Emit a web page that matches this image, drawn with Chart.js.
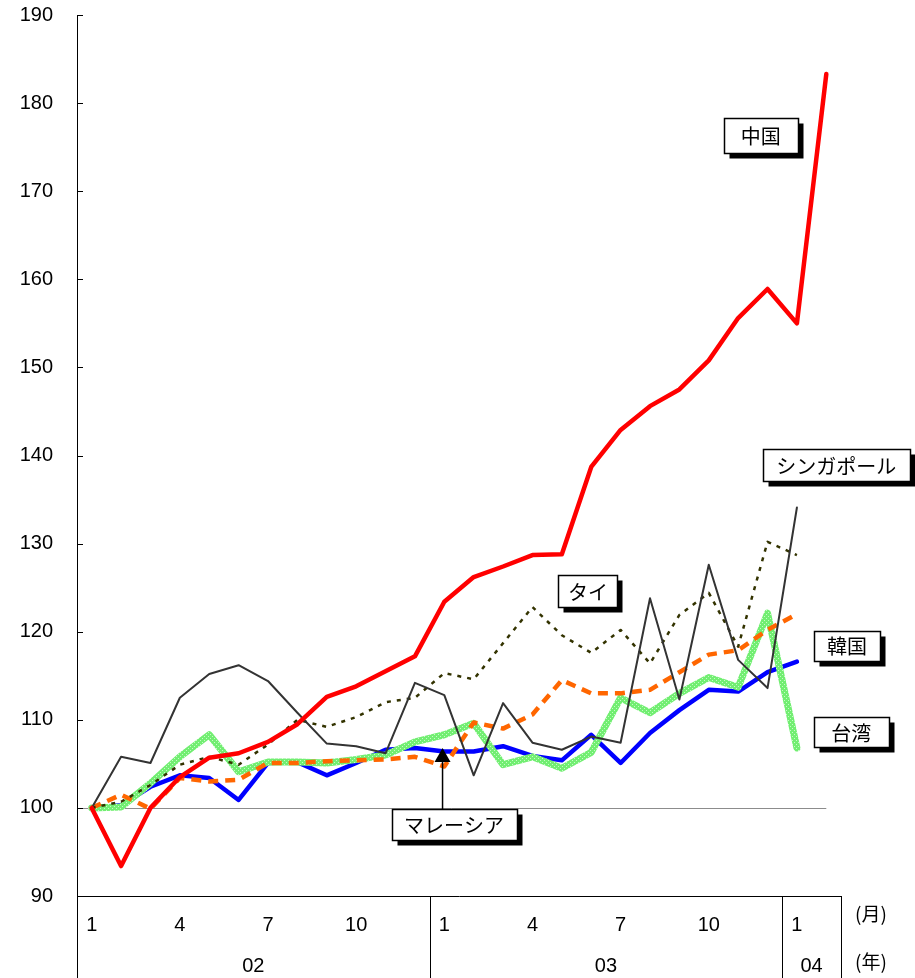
<!DOCTYPE html>
<html>
<head>
<meta charset="utf-8">
<script src="https://cdn.jsdelivr.net/npm/chart.js@4.4.1/dist/chart.umd.min.js"></script>
<style>
  html, body { margin: 0; padding: 0; background: #fff; }
  #wrap { width: 915px; height: 978px; }
</style>
</head>
<body>
<div id="wrap"><canvas id="exportChart" width="915" height="978"></canvas></div>
<script>
// Monthly index (2002-01 = 100), Jan 2002 – Feb 2004
const CATEGORIES = [
  '2002-01', '2002-02', '2002-03', '2002-04', '2002-05', '2002-06',
  '2002-07', '2002-08', '2002-09', '2002-10', '2002-11', '2002-12',
  '2003-01', '2003-02', '2003-03', '2003-04', '2003-05', '2003-06',
  '2003-07', '2003-08', '2003-09', '2003-10', '2003-11', '2003-12',
  '2004-01', '2004-02'
];
const MONTH_TICKS = ['1', '4', '7', '10'];
const YEAR_LABELS = ['02', '03', '04'];
const Y_TICKS = [90, 100, 110, 120, 130, 140, 150, 160, 170, 180, 190];

const china = [100, 93.4, 100, 103.5, 105.7, 106.2, 107.5, 109.5, 112.6, 113.8, 115.5, 117.2,
  123.4, 126.2, 127.4, 128.7, 128.8, 138.7, 142.9, 145.6, 147.5, 150.8, 155.6, 158.9, 155.0, 183.3];
const singapore = [100, 105.8, 105.1, 112.5, 115.2, 116.2, 114.4, 110.8, 107.3, 107.0, 106.2, 114.2,
  112.8, 103.7, 111.9, 107.4, 106.6, 108.1, 107.4, 123.8, 112.3, 127.6, 116.8, 113.6, 134.1, null];
const thailand = [100, 100.7, 102.6, 104.9, 105.8, 104.9, 107.2, 110.0, 109.2, 110.3, 112.0, 112.5,
  115.3, 114.6, 118.7, 122.8, 119.6, 117.6, 120.2, 116.4, 121.9, 124.4, 118.3, 130.2, 128.7, null];
const korea = [100, 101.5, 99.9, 103.4, 103.0, 103.2, 105.1, 105.1, 105.3, 105.4, 105.5, 105.8,
  104.7, 109.7, 109.0, 110.6, 114.5, 113.0, 113.0, 113.4, 115.4, 117.4, 117.9, 120.2, 122.0, null];
const taiwan = [100, 100.1, 102.8, 105.8, 108.3, 104.1, 105.2, 105.2, 105.1, 105.5, 106.0, 107.5,
  108.3, 109.6, 104.9, 105.8, 104.5, 106.3, 112.5, 110.8, 113.0, 114.8, 113.7, 122.1, 106.8, null];
const malaysia = [100, 100.3, 102.4, 103.7, 103.4, 100.9, 105.1, 105.2, 103.7, 105.1, 106.6, 106.8,
  106.4, 106.4, 107.0, 105.9, 105.4, 108.3, 105.1, 108.5, 111.1, 113.4, 113.2, 115.4, 116.6, null];

const BASE_VALUE = 100;

// boxed labels: x = category index, y = value (box centre)
const CALLOUTS = [
  { text: '中国', x: 22.77, y: 176.3, w: 74, h: 35 },
  { text: 'シンガポール', x: 25.34, y: 138.9, w: 147, h: 32 },
  { text: 'タイ', x: 16.89, y: 124.6, w: 59, h: 32 },
  { text: '韓国', x: 25.70, y: 118.4, w: 66, h: 30 },
  { text: '台湾', x: 25.85, y: 108.6, w: 75, h: 30 },
  { text: 'マレーシア', x: 12.33, y: 98.1, w: 125, h: 31, arrowTo: { x: 11.94, y: 106.8 } },
];

const TICK_FONT = '20px "Liberation Sans", Arial, sans-serif';
const LABEL_FONT = '20px "Noto Sans CJK JP", sans-serif';

// light green textured stroke for Taiwan
function greenPattern() {
  const c = document.createElement('canvas');
  c.width = 4; c.height = 4;
  const g = c.getContext('2d');
  g.fillStyle = '#72ee72';
  g.fillRect(0, 0, 4, 4);
  g.fillStyle = '#c6fcc6';
  g.fillRect(0, 0, 1, 1);
  g.fillRect(2, 2, 1, 1);
  return g.createPattern(c, 'repeat');
}

const axisDecor = {
  id: 'axisDecor',
  beforeDatasetsDraw(chart) {
    const { ctx, chartArea, scales: { x, y } } = chart;
    // base line at 100
    const yb = Math.round(y.getPixelForValue(BASE_VALUE)) + 0.5;
    ctx.save();
    ctx.strokeStyle = '#8c8c8c';
    ctx.lineWidth = 1;
    ctx.beginPath();
    ctx.moveTo(chartArea.left, yb);
    ctx.lineTo(x.getPixelForValue(CATEGORIES.length - 1), yb);
    ctx.stroke();
    ctx.restore();
  },
  afterDraw(chart) {
    const { ctx, chartArea, scales: { x, y } } = chart;
    ctx.save();
    ctx.strokeStyle = '#000';
    ctx.lineWidth = 1;
    // inward tick marks on the y axis
    Y_TICKS.forEach(v => {
      const py = Math.round(y.getPixelForValue(v)) + 0.5;
      ctx.beginPath();
      ctx.moveTo(chartArea.left, py);
      ctx.lineTo(chartArea.left + 6, py);
      ctx.stroke();
    });
    // year separators under the x axis
    const half = (x.getPixelForValue(1) - x.getPixelForValue(0)) / 2;
    const bounds = [0, 12, 24, CATEGORIES.length].map(i =>
      i < CATEGORIES.length ? x.getPixelForValue(i) - half : x.getPixelForValue(i - 1) + half);
    bounds.forEach(bx => {
      const px = Math.round(bx) + 0.5;
      ctx.beginPath();
      ctx.moveTo(px, chartArea.bottom);
      ctx.lineTo(px, chart.height);
      ctx.stroke();
    });
    ctx.fillStyle = '#000';
    ctx.font = TICK_FONT;
    ctx.textAlign = 'center';
    ctx.textBaseline = 'middle';
    YEAR_LABELS.forEach((lab, i) => {
      ctx.fillText(lab, (bounds[i] + bounds[i + 1]) / 2, chartArea.bottom + 70);
    });
    ctx.font = '19px "Noto Sans CJK JP", sans-serif';
    ctx.fillText('(月)', bounds[3] + 30, chartArea.bottom + 18);
    ctx.fillText('(年)', bounds[3] + 30, chartArea.bottom + 66);
    ctx.restore();

    // callout boxes
    ctx.save();
    ctx.font = LABEL_FONT;
    ctx.textAlign = 'center';
    ctx.textBaseline = 'middle';
    CALLOUTS.forEach(c => {
      const cx = x.getPixelForValue(0) + c.x * (x.getPixelForValue(1) - x.getPixelForValue(0));
      const cy = y.getPixelForValue(c.y);
      const left = Math.round(cx - c.w / 2) + 0.5;
      const top = Math.round(cy - c.h / 2) + 0.5;
      if (c.arrowTo) {
        const ax = x.getPixelForValue(0) + c.arrowTo.x * (x.getPixelForValue(1) - x.getPixelForValue(0));
        const ay = y.getPixelForValue(c.arrowTo.y);
        ctx.strokeStyle = '#000';
        ctx.lineWidth = 1.5;
        ctx.beginPath();
        ctx.moveTo(ax, top);
        ctx.lineTo(ax, ay + 10);
        ctx.stroke();
        ctx.fillStyle = '#000';
        ctx.beginPath();
        ctx.moveTo(ax, ay);
        ctx.lineTo(ax - 8, ay + 14);
        ctx.lineTo(ax + 8, ay + 14);
        ctx.closePath();
        ctx.fill();
      }
      ctx.fillStyle = '#000';
      ctx.fillRect(left + 5, top + 5, c.w, c.h);
      ctx.fillStyle = '#fff';
      ctx.fillRect(left, top, c.w, c.h);
      ctx.strokeStyle = '#000';
      ctx.lineWidth = 1.5;
      ctx.strokeRect(left, top, c.w, c.h);
      ctx.fillStyle = '#000';
      ctx.fillText(c.text, cx, cy + 1);
    });
    ctx.restore();
  }
};

const ds = (label, data, style) => Object.assign({
  label, data, pointRadius: 0, fill: false, tension: 0, spanGaps: false,
  borderJoinStyle: 'round', borderCapStyle: 'round'
}, style);

new Chart(document.getElementById('exportChart'), {
  type: 'line',
  data: {
    labels: CATEGORIES,
    datasets: [
      ds('中国', china, { borderColor: '#ff0000', borderWidth: 4.5 }),
      ds('シンガポール', singapore, { borderColor: '#333333', borderWidth: 2 }),
      ds('タイ', thailand, { borderColor: '#333300', borderWidth: 2.5, borderDash: [4, 6], borderCapStyle: 'butt' }),
      ds('韓国', korea, { borderColor: '#ff6600', borderWidth: 4.5, borderDash: [10, 7], borderCapStyle: 'butt' }),
      ds('台湾', taiwan, { borderColor: greenPattern(), borderWidth: 7 }),
      ds('マレーシア', malaysia, { borderColor: '#0000ff', borderWidth: 4.5 }),
    ],
  },
  options: {
    responsive: false,
    animation: false,
    events: [],
    layout: { padding: { top: 15, right: 74, left: 0, bottom: 0 } },
    plugins: { legend: { display: false }, tooltip: { enabled: false } },
    scales: {
      x: {
        offset: true,
        grid: { display: false, drawTicks: false },
        border: { display: true, color: '#000', width: 1 },
        afterFit: (s) => { s.height = 82; },
        ticks: {
          autoSkip: false, maxRotation: 0, padding: 17,
          color: '#000', font: { family: '"Liberation Sans", Arial', size: 20 },
          callback: (v, i) => {
            const m = String(parseInt(CATEGORIES[i].slice(5), 10));
            return MONTH_TICKS.includes(m) ? m : '';
          },
        },
      },
      y: {
        min: 90, max: 190,
        grid: { display: false, drawTicks: false },
        border: { display: true, color: '#000', width: 1 },
        afterFit: (s) => { s.width = 77; s.paddingTop = 0; s.paddingBottom = 0; },
        afterBuildTicks: (s) => { s.ticks = Y_TICKS.map(v => ({ value: v })); },
        ticks: {
          padding: 24, color: '#000',
          font: { family: '"Liberation Sans", Arial', size: 20 },
        },
      },
    },
  },
  plugins: [axisDecor],
});
</script>
</body>
</html>
